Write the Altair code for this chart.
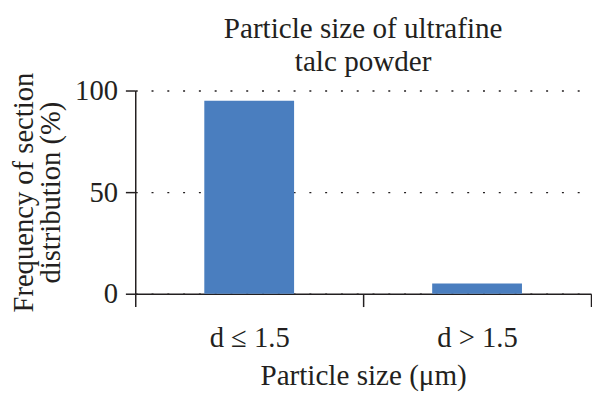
import altair as alt
import pandas as pd

categories = ["d ≤ 1.5", "d > 1.5"]
values = [95, 5]
y_ticks = [0, 50, 100]
title_lines = ["Particle size of ultrafine", "talc powder"]
y_title = ["Frequency of section", "distribution (%)"]
x_title = "Particle size (μm)"

df = pd.DataFrame({"size": categories, "freq": values})

FONT = "Liberation Serif"
TXT = "#231f20"

chart = (
    alt.Chart(df)
    .mark_bar(color="#4a7ebf", width=alt.RelativeBandSize(0.394))
    .encode(
        x=alt.X(
            "size:N",
            sort=categories,
            scale=alt.Scale(paddingInner=0, paddingOuter=0),
            axis=alt.Axis(
                title=x_title,
                labelAngle=0,
                labelFont=FONT,
                labelFontSize=29,
                labelColor=TXT,
                labelPadding=17,
                tickBand="extent",
                tickSize=13,
                tickColor=TXT,
                tickWidth=1.5,
                domainColor=TXT,
                domainWidth=1.5,
                titleFont=FONT,
                titleFontSize=29.5,
                titleFontWeight="normal",
                titleColor=TXT,
                titleBaseline="alphabetic",
                titleY=92,
            ),
        ),
        y=alt.Y(
            "freq:Q",
            scale=alt.Scale(domain=[0, 100], nice=False),
            axis=alt.Axis(
                title=y_title,
                values=y_ticks,
                grid=True,
                gridDash=[2, 14],
                gridColor=TXT,
                gridWidth=1.5,
                labelFont=FONT,
                labelFontSize=29,
                labelColor=TXT,
                labelPadding=8,
                tickSize=10,
                tickColor=TXT,
                tickWidth=1.5,
                domainColor=TXT,
                domainWidth=1.5,
                titleFont=FONT,
                titleFontSize=29,
                titleFontWeight="normal",
                titleColor=TXT,
                titleBaseline="alphabetic",
                titleLineHeight=27,
                titleX=-104,
                titleY=103,
            ),
        ),
    )
    .properties(
        width=462,
        height=206,
        title=alt.TitleParams(
            text=title_lines,
            font=FONT,
            fontSize=29.5,
            fontWeight="normal",
            color=TXT,
            anchor="middle",
            frame="group",
            lineHeight=33,
            offset=4,
            dy=9,
        ),
        autosize=alt.AutoSizeParams(type="none"),
        padding={"left": 129, "top": 81, "right": 1, "bottom": 100},
    )
    .configure_view(stroke=None)
)

chart.save("out.html", embed_options={"renderer": "svg", "actions": False})
